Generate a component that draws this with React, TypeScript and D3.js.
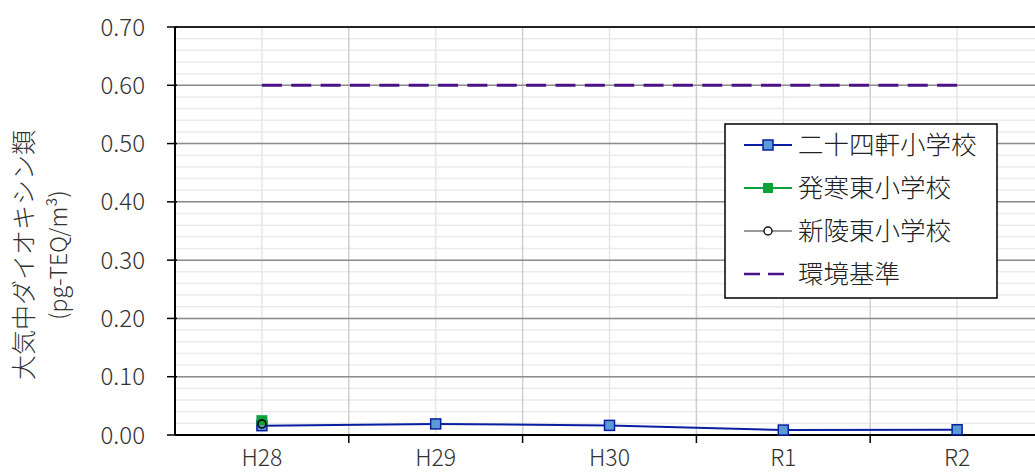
import React from "react";
import * as d3 from "d3";

const categories = ["H28", "H29", "H30", "R1", "R2"];
const nijuyonken = [0.016, 0.019, 0.0165, 0.0085, 0.009];
const hassamuHigashi = [0.022, null, null, null, null];
const shinryoHigashi = [0.019, null, null, null, null];
const standard = [0.6, 0.6, 0.6, 0.6, 0.6];
const yTicks = [0, 0.1, 0.2, 0.3, 0.4, 0.5, 0.6, 0.7];
const seriesNames = ["二十四軒小学校", "発寒東小学校", "新陵東小学校", "環境基準"];

const W = 1035, H = 473;
const left = 175, right = 1044, top = 27, bottom = 435;
const font = "'Noto Sans CJK JP', 'Noto Sans', sans-serif";

export default function App() {
  const x = d3.scaleBand<string>().domain(categories).range([left, right]);
  const y = d3.scaleLinear().domain([0, 0.7]).range([bottom, top]);
  const cx = (c: string) => (x(c) as number) + x.bandwidth() / 2;
  const minor = d3.range(0, 0.7001, 0.02);
  const line = d3.line<[string, number | null]>()
    .defined(d => d[1] != null)
    .x(d => cx(d[0]))
    .y(d => y(d[1] as number));
  const zip = (arr: (number | null)[]) => categories.map((c, i) => [c, arr[i]] as [string, number | null]);
  const span = cx(categories[categories.length - 1]) - cx(categories[0]);
  const dash = 20;
  const gap = (span - dash) / 23 - dash;

  return (
    <svg width={W} height={H} style={{ position: "absolute", left: 0, top: 0, background: "#fff" }} fontFamily={font} fontWeight={300}>
      {minor.map((v, i) => (
        <line key={"mh" + i} x1={left} x2={right} y1={y(v)} y2={y(v)} stroke="#ebebeb" strokeWidth={1.5} />
      ))}
      {categories.map(c => (
        <line key={"mv" + c} x1={cx(c)} x2={cx(c)} y1={top} y2={bottom} stroke="#e6e6e6" strokeWidth={1.5} />
      ))}
      {categories.slice(1).map(c => (
        <line key={"Mv" + c} x1={x(c)} x2={x(c)} y1={top} y2={bottom} stroke="#cfcfcf" strokeWidth={1.5} />
      ))}
      {yTicks.slice(1).map((v, i) => (
        <line key={"Mh" + i} x1={left} x2={right} y1={y(v)} y2={y(v)} stroke={v >= 0.69 ? "#222" : "#8c8c8c"} strokeWidth={v >= 0.69 ? 2 : 1.5} />
      ))}
      <line x1={left} x2={left} y1={top} y2={bottom} stroke="#000" strokeWidth={2} />
      <line x1={left} x2={right} y1={bottom} y2={bottom} stroke="#000" strokeWidth={2} />
      {yTicks.map((v, i) => (
        <g key={"yt" + i}>
          <line x1={left - 8} x2={left + 2} y1={y(v)} y2={y(v)} stroke="#000" strokeWidth={1.5} />
          <text x={145} y={y(v)} dy="0.36em" textAnchor="end" fontSize={24} fill="#333">{v.toFixed(2)}</text>
        </g>
      ))}
      {categories.map((c, i) => (
        <g key={"xt" + c}>
          {i > 0 && <line x1={x(c)} x2={x(c)} y1={bottom} y2={bottom + 8} stroke="#000" strokeWidth={1.5} />}
          <text x={cx(c)} y={466} textAnchor="middle" fontSize={23} fill="#333">{c}</text>
        </g>
      ))}
      <g transform="translate(33,255) rotate(-90)">
        <text x={0} y={0} textAnchor="middle" fontSize={25} fill="#333">大気中ダイオキシン類</text>
        <text x={0} y={34} textAnchor="middle" fontSize={23} fill="#333">(pg-TEQ/m³)</text>
      </g>
      <path d={line(zip(standard)) as string} fill="none" stroke="#4b1186" strokeWidth={3} strokeDasharray={`${dash} ${gap}`} />
      <path d={line(zip(nijuyonken)) as string} fill="none" stroke="#0a1fa0" strokeWidth={2} />
      {nijuyonken.map((v, i) => (
        <rect key={"nj" + i} x={cx(categories[i]) - 5} y={y(v) - 5} width={10} height={10} fill="#5b9bd5" stroke="#0a1fa0" strokeWidth={1.5} />
      ))}
      {hassamuHigashi.map((v, i) => v != null && (
        <rect key={"hs2" + i} x={cx(categories[i]) - 5.5} y={y(v) - 7} width={11} height={10} fill="#0aa33a" />
      ))}
      {shinryoHigashi.map((v, i) => v != null && (
        <circle key={"sr" + i} cx={cx(categories[i])} cy={y(v)} r={4} fill="none" stroke="#111" strokeWidth={1.8} />
      ))}
      <g>
        <rect x={725} y={124} width={272} height={174} fill="#fff" stroke="#000" strokeWidth={1.5} />
        {seriesNames.map((n, i) => {
          const ly = 145 + i * 43;
          return (
            <g key={n}>
              {i === 0 && <>
                <line x1={744} x2={792} y1={ly} y2={ly} stroke="#0a1fa0" strokeWidth={2} />
                <rect x={763} y={ly - 5} width={10} height={10} fill="#5b9bd5" stroke="#0a1fa0" strokeWidth={1.5} />
              </>}
              {i === 1 && <>
                <line x1={744} x2={792} y1={ly} y2={ly} stroke="#0aa33a" strokeWidth={2} />
                <rect x={763} y={ly - 5} width={10} height={10} fill="#0aa33a" />
              </>}
              {i === 2 && <>
                <line x1={744} x2={792} y1={ly} y2={ly} stroke="#999" strokeWidth={2} />
                <circle cx={768} cy={ly} r={4} fill="#fff" stroke="#111" strokeWidth={1.5} />
              </>}
              {i === 3 && <line x1={744} x2={792} y1={ly} y2={ly} stroke="#4b1186" strokeWidth={2.5} strokeDasharray="16 8" />}
              <text x={798} y={ly} dy="0.36em" fontSize={25.5} fill="#222">{n}</text>
            </g>
          );
        })}
      </g>
    </svg>
  );
}
